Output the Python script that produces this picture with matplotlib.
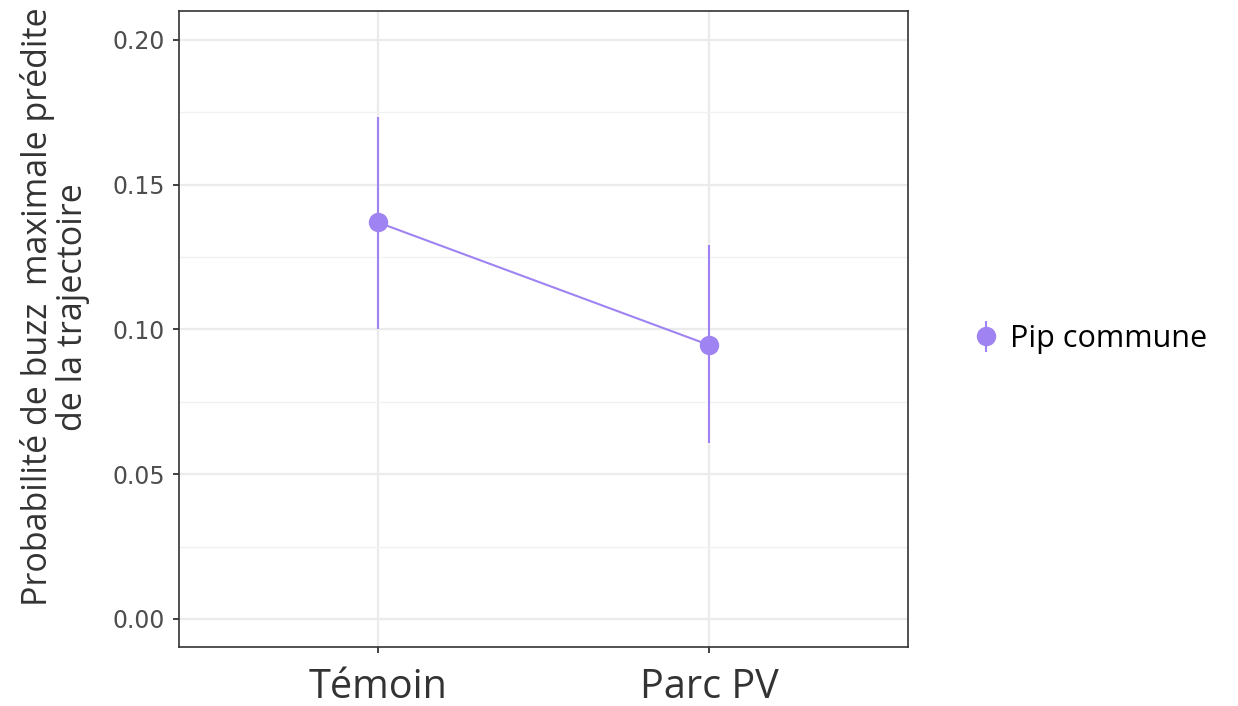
import numpy as np
import matplotlib.pyplot as plt

# data
categories = ['Témoin', 'Parc PV']
pred = [0.137, 0.0946]
lower = [0.1002, 0.0608]
upper = [0.1734, 0.1292]
series_name = 'Pip commune'
y_ticks = [0.00, 0.05, 0.10, 0.15, 0.20]
y_minor = [0.025, 0.075, 0.125, 0.175]

col = '#a083f2'

fig = plt.figure(figsize=(12.38, 7.06), dpi=100)
ax = fig.add_axes([179/1238, 1 - 647/706, (908-179)/1238, (647-11)/706])

x = np.arange(1, len(categories) + 1)
pred = np.array(pred)
yerr = [pred - np.array(lower), np.array(upper) - pred]

ax.plot(x, pred, color=col, lw=1.5, zorder=3)
ax.errorbar(x, pred, yerr=yerr, fmt='o', color=col, ms=13, elinewidth=1.5,
            capsize=0, zorder=4, label=series_name)

ax.set_xlim(0.4, 2.6)
ax.set_ylim(-0.0097, 0.210)
ax.set_xticks(x)
ax.set_xticklabels(categories, fontsize=28.5, family='Open Sans', color='#333333')
ax.set_yticks(y_ticks)
ax.set_yticklabels(['%.2f' % v for v in y_ticks], fontsize=17,
                   family='DejaVu Sans', color='#4d4d4d')
ax.set_yticks(y_minor, minor=True)
ax.set_xticks([1.5], minor=True)
ax.tick_params(axis='both', which='major', length=4, width=1.3, color='#333333')
ax.tick_params(axis='both', which='minor', length=0)
ax.tick_params(axis='x', pad=11)
ax.tick_params(axis='y', pad=6)

ax.grid(True, which='major', color='#ebebeb', lw=1.6)
ax.grid(True, which='minor', axis='y', color='#f2f2f2', lw=1.0)
ax.set_axisbelow(True)
for s in ax.spines.values():
    s.set_color('#333333')
    s.set_linewidth(1.2)

ax.set_ylabel('Probabilité de buzz  maximale prédite\nde la trajectoire',
              fontsize=24.5, family='Open Sans', color='#333333',
              linespacing=1.05)
ax.yaxis.set_label_coords(-0.122, 0.535)

leg = fig.legend(loc='center left', bbox_to_anchor=(937/1238, 1 - 339/706),
                 frameon=False, prop={'family': 'Open Sans', 'size': 22},
                 handletextpad=0.1, handlelength=1.4)

fig.savefig('out.png', dpi=100)
